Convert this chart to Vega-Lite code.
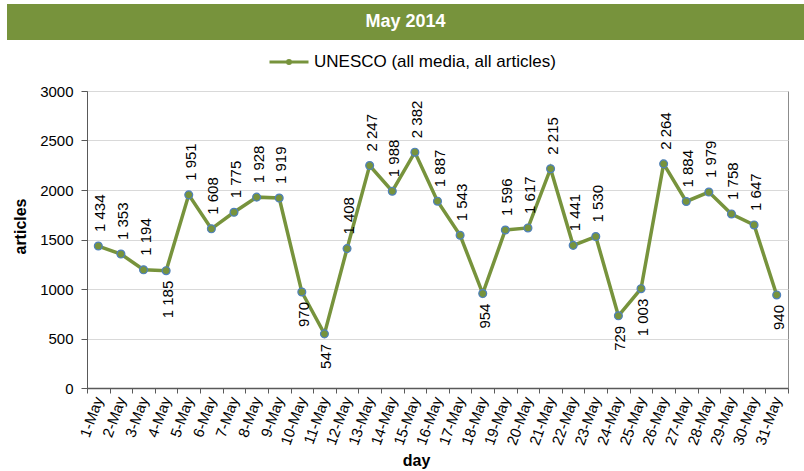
{
  "$schema": "https://vega.github.io/schema/vega-lite/v6.json",
  "padding": {"left": 7, "top": 4, "right": 0, "bottom": 0},
  "background": "white",
  "spacing": 43,
  "config": {
    "locale": {"number": {"decimal": ".", "thousands": " ", "grouping": [3], "currency": ["", ""]}},
    "font": "Liberation Sans"
  },
  "datasets": {
    "may": [
      {"day": "1-May", "articles": 1434},
      {"day": "2-May", "articles": 1353},
      {"day": "3-May", "articles": 1194},
      {"day": "4-May", "articles": 1185},
      {"day": "5-May", "articles": 1951},
      {"day": "6-May", "articles": 1608},
      {"day": "7-May", "articles": 1775},
      {"day": "8-May", "articles": 1928},
      {"day": "9-May", "articles": 1919},
      {"day": "10-May", "articles": 970},
      {"day": "11-May", "articles": 547},
      {"day": "12-May", "articles": 1408},
      {"day": "13-May", "articles": 2247},
      {"day": "14-May", "articles": 1988},
      {"day": "15-May", "articles": 2382},
      {"day": "16-May", "articles": 1887},
      {"day": "17-May", "articles": 1543},
      {"day": "18-May", "articles": 954},
      {"day": "19-May", "articles": 1596},
      {"day": "20-May", "articles": 1617},
      {"day": "21-May", "articles": 2215},
      {"day": "22-May", "articles": 1441},
      {"day": "23-May", "articles": 1530},
      {"day": "24-May", "articles": 729},
      {"day": "25-May", "articles": 1003},
      {"day": "26-May", "articles": 2264},
      {"day": "27-May", "articles": 1884},
      {"day": "28-May", "articles": 1979},
      {"day": "29-May", "articles": 1758},
      {"day": "30-May", "articles": 1647},
      {"day": "31-May", "articles": 940}
    ],
    "header": [{"t": "May 2014"}]
  },
  "vconcat": [
    {
      "width": 797,
      "height": 36,
      "view": {"fill": "#77933C", "stroke": null},
      "data": {"name": "header"},
      "mark": {"type": "text", "color": "white", "fontWeight": "bold", "fontSize": 18, "baseline": "middle", "align": "center"},
      "encoding": {"text": {"field": "t", "type": "nominal"}}
    },
    {
      "spacing": 0,
      "hconcat": [
        {
          "width": 4,
          "height": 297,
          "view": {"fill": "white", "stroke": null},
          "data": {"values": []},
          "mark": "point"
        },
        {
          "width": 701,
          "height": 297,
          "data": {"name": "may"},
          "view": {"stroke": "#8c8c8c", "strokeWidth": 1},
          "encoding": {
            "x": {
              "field": "day", "type": "ordinal", "sort": null,
              "scale": {"paddingInner": 0, "paddingOuter": 0},
              "axis": {
                "title": "day", "titleFontSize": 16, "titleFontWeight": "bold", "titleColor": "black",
                "titleX": 329, "titleY": 77, "titleAlign": "center", "titleBaseline": "alphabetic",
                "labelAngle": -70, "labelAlign": "right", "labelBaseline": "middle",
                "labelFontSize": 15, "labelColor": "black", "labelPadding": 4,
                "tickBand": "extent", "tickSize": 5, "tickColor": "#595959",
                "domainColor": "#595959", "domainWidth": 1.5, "grid": false
              }
            },
            "y": {
              "field": "articles", "type": "quantitative",
              "scale": {"domain": [0, 3000], "nice": false},
              "axis": {
                "title": "articles", "titleFontSize": 16, "titleFontWeight": "bold", "titleColor": "black",
                "titleX": -67, "titleY": 135, "titleAngle": 270, "titleAlign": "center", "titleBaseline": "middle",
                "values": [0, 500, 1000, 1500, 2000, 2500, 3000], "format": "d",
                "labelFontSize": 15, "labelColor": "black", "labelPadding": 8,
                "tickSize": 6, "tickColor": "#595959", "domainColor": "#595959",
                "grid": true, "gridColor": "#d9d9d9"
              }
            }
          },
          "layer": [
            {
              "mark": {"type": "line", "strokeWidth": 3.5},
              "encoding": {
                "color": {
                  "datum": "UNESCO (all media, all articles)",
                  "type": "nominal",
                  "scale": {"range": ["#77933C"]},
                  "legend": {
                    "orient": "none", "legendX": 261, "legendY": 37, "title": null,
                    "symbolType": "M-1,0H1M-0.08,0A0.08,0.08,0,1,1,0.08,0A0.08,0.08,0,1,1,-0.08,0",
                    "symbolSize": 1521, "symbolStrokeWidth": 3,
                    "symbolFillColor": "#77933C", "symbolStrokeColor": "#77933C",
                    "labelFontSize": 17, "labelColor": "black", "labelOffset": 4, "labelLimit": 400, "padding": 0
                  }
                }
              }
            },
            {
              "mark": {"type": "point", "filled": true, "fill": "#77933C", "stroke": "#4F81BD", "strokeWidth": 1.2, "size": 62, "opacity": 1}
            },
            {
              "transform": [{"filter": "datum.articles >= 1190"}],
              "mark": {"type": "text", "angle": 270, "align": "left", "baseline": "middle", "dx": 14, "dy": 2, "fontSize": 15, "color": "black"},
              "encoding": {"text": {"field": "articles", "type": "quantitative", "format": ","}}
            },
            {
              "transform": [{"filter": "datum.articles < 1190"}],
              "mark": {"type": "text", "angle": 270, "align": "right", "baseline": "middle", "dx": -10, "dy": 2, "fontSize": 15, "color": "black"},
              "encoding": {"text": {"field": "articles", "type": "quantitative", "format": ","}}
            }
          ]
        }
      ]
    }
  ]
}
